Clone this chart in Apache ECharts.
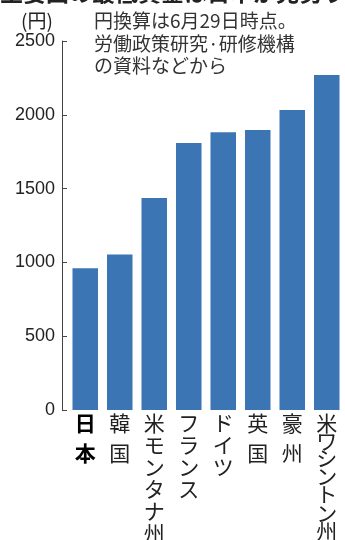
<!DOCTYPE html>
<html><head><meta charset="utf-8">
<script src="https://cdn.jsdelivr.net/npm/echarts@6/dist/echarts.min.js"></script>
<style>html,body{margin:0;padding:0;background:#fff}#c{width:345px;height:540px}</style>
</head><body><div id="c"></div>
<script>
const categories = ['日本','韓国','米モンタナ州','フランス','ドイツ','英国','豪州','米ワシントン州'];
const wages = [961, 1054, 1437, 1809, 1881, 1897, 2032, 2270];
const yTicks = [0, 500, 1000, 1500, 2000, 2500];
const unitLabel = '(円)';
const noteLines = ['円換算は6月29日時点。', '労働政策研究·研修機構', 'の資料などから'];
// NOTE: in the reference only the bottom few pixels of the headline are visible and it
// cannot be read; this wording is a GUESS used to fill the cropped strip, not the real title.
const headline = '主要国の最低賃金は日本が見劣り';

const chart = echarts.init(document.getElementById('c'));
const FONT = '"Noto Sans CJK JP", "Liberation Sans", sans-serif';

function verticalLabel(name) {
  const chars = name.split('');
  if (chars.length === 2) {
    const s = name === '日本' ? 'j' : 'a';
    return '{' + s + '|' + chars[0] + '}\n{' + s + '2|' + chars[1] + '}';
  }
  if (chars.length >= 7) {
    return chars.map((c, i) => '{' + (i === 0 ? 'a' : i === 1 ? 'c1' : 'c') + '|' + c + '}').join('\n');
  }
  return chars.map(c => '{a|' + c + '}').join('\n');
}

const lab = (lh, bold) => ({ fontFamily: FONT, fontSize: 21, lineHeight: lh, color: bold ? '#000' : '#222', fontWeight: bold ? 'bold' : 'normal' });

chart.setOption({
  animation: false,
  grid: { left: 68, right: 1, top: 41, bottom: 130, containLabel: false, outerBoundsMode: 'none' },
  xAxis: {
    type: 'category',
    data: categories,
    axisLine: { show: false },
    axisTick: { show: false },
    axisLabel: {
      interval: 0,
      margin: 2,
      formatter: verticalLabel,
      rich: {
        a: lab(22), a2: lab(38),
        c1: lab(14.6), c: lab(18.3),
        j: lab(22, true), j2: lab(38, true)
      }
    }
  },
  yAxis: {
    type: 'value',
    min: yTicks[0],
    max: yTicks[yTicks.length - 1],
    interval: 500,
    offset: 6,
    axisLine: { show: true, lineStyle: { color: '#444', width: 1 } },
    axisTick: { show: true, inside: true, length: 5, lineStyle: { color: '#444' } },
    splitLine: { show: false },
    axisLabel: { margin: 7, formatter: v => String(v), fontFamily: '"Liberation Sans", Arial, sans-serif', fontSize: 18, color: '#222' }
  },
  series: [{
    type: 'bar',
    data: wages,
    barCategoryGap: '26%',
    itemStyle: { color: '#3c75b3' }
  }],
  graphic: [
    { type: 'text', left: 'center', top: -19, style: { text: headline, font: 'bold 23px ' + FONT, fill: '#222' } },
    { type: 'text', x: 37, y: 21, style: { text: unitLabel, font: '19px ' + FONT, fill: '#222', align: 'center', verticalAlign: 'middle' } },
    { type: 'text', x: 94, y: 10, style: { text: noteLines.join('\n'), font: '19px ' + FONT, lineHeight: 22.5, fill: '#333' } }
  ]
});
</script></body></html>
